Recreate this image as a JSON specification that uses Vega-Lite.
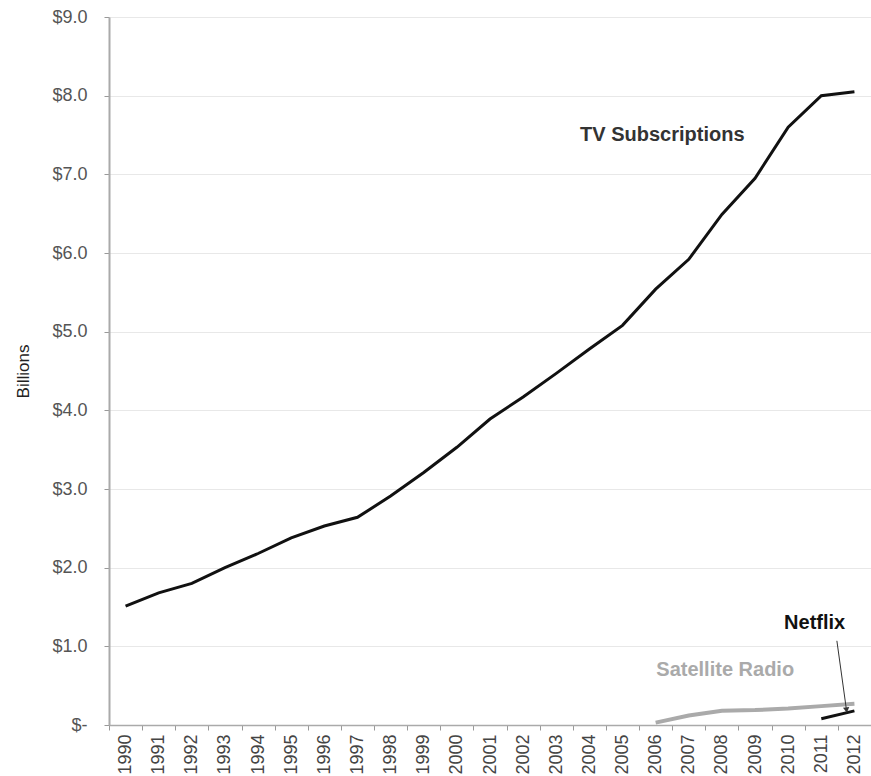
{
  "$schema": "https://vega.github.io/schema/vega-lite/v6.json",
  "width": 762,
  "height": 708,
  "autosize": "none",
  "padding": {"left": 109, "top": 17, "right": 0, "bottom": 51},
  "background": "white",
  "config": {
    "view": {"stroke": null},
    "font": "Liberation Sans"
  },
  "datasets": {
    "series": [
      {"year": 1990, "series": "TV Subscriptions", "value": 1.51},
      {"year": 1991, "series": "TV Subscriptions", "value": 1.68},
      {"year": 1992, "series": "TV Subscriptions", "value": 1.80},
      {"year": 1993, "series": "TV Subscriptions", "value": 2.00},
      {"year": 1994, "series": "TV Subscriptions", "value": 2.18},
      {"year": 1995, "series": "TV Subscriptions", "value": 2.38},
      {"year": 1996, "series": "TV Subscriptions", "value": 2.53},
      {"year": 1997, "series": "TV Subscriptions", "value": 2.64},
      {"year": 1998, "series": "TV Subscriptions", "value": 2.91},
      {"year": 1999, "series": "TV Subscriptions", "value": 3.21},
      {"year": 2000, "series": "TV Subscriptions", "value": 3.53},
      {"year": 2001, "series": "TV Subscriptions", "value": 3.89},
      {"year": 2002, "series": "TV Subscriptions", "value": 4.17},
      {"year": 2003, "series": "TV Subscriptions", "value": 4.47},
      {"year": 2004, "series": "TV Subscriptions", "value": 4.78},
      {"year": 2005, "series": "TV Subscriptions", "value": 5.08},
      {"year": 2006, "series": "TV Subscriptions", "value": 5.54},
      {"year": 2007, "series": "TV Subscriptions", "value": 5.92},
      {"year": 2008, "series": "TV Subscriptions", "value": 6.49},
      {"year": 2009, "series": "TV Subscriptions", "value": 6.95},
      {"year": 2010, "series": "TV Subscriptions", "value": 7.60},
      {"year": 2011, "series": "TV Subscriptions", "value": 8.00},
      {"year": 2012, "series": "TV Subscriptions", "value": 8.05},
      {"year": 2006, "series": "Satellite Radio", "value": 0.03},
      {"year": 2007, "series": "Satellite Radio", "value": 0.12},
      {"year": 2008, "series": "Satellite Radio", "value": 0.18},
      {"year": 2009, "series": "Satellite Radio", "value": 0.19},
      {"year": 2010, "series": "Satellite Radio", "value": 0.21},
      {"year": 2011, "series": "Satellite Radio", "value": 0.24},
      {"year": 2012, "series": "Satellite Radio", "value": 0.27},
      {"year": 2011, "series": "Netflix", "value": 0.08},
      {"year": 2012, "series": "Netflix", "value": 0.18}
    ],
    "labels": [
      {"label": "TV Subscriptions", "year": 2006.2, "value": 7.5},
      {"label": "Satellite Radio", "year": 2008.1, "value": 0.70},
      {"label": "Netflix", "year": 2010.8, "value": 1.30}
    ],
    "arrow": [
      {"year": 2011.47, "value": 1.07, "year2": 2011.76, "value2": 0.19}
    ]
  },
  "resolve": {"scale": {"x": "independent"}},
  "layer": [
    {
      "data": {"name": "series"},
      "encoding": {
        "x": {
          "field": "year", "type": "ordinal",
          "scale": {"type": "band", "paddingInner": 0, "paddingOuter": 0},
          "axis": {
            "title": null,
            "labelAngle": 270,
            "labelOverlap": false,
            "labelFontSize": 18,
            "labelColor": "#444444",
            "labelPadding": 4,
            "tickBand": "extent",
            "tickSize": 5,
            "tickColor": "#999999",
            "domainColor": "#aaaaaa",
            "domainWidth": 1.5,
            "grid": false
          }
        },
        "y": {
          "field": "value", "type": "quantitative",
          "scale": {"domain": [0, 9], "nice": false},
          "axis": {
            "title": "Billions",
            "titleFontSize": 17,
            "titleFontWeight": "normal",
            "titleColor": "#222222",
            "titlePadding": 19,
            "values": [0, 1, 2, 3, 4, 5, 6, 7, 8, 9],
            "labelExpr": "datum.value == 0 ? '$-' : '$' + format(datum.value, '.1f')",
            "labelFontSize": 18,
            "labelColor": "#555555",
            "labelPadding": 17,
            "labelOverlap": false,
            "tickSize": 5,
            "tickColor": "#999999",
            "domainColor": "#aaaaaa",
            "domainWidth": 2,
            "grid": true,
            "gridColor": "#e8e8e8",
            "gridWidth": 1
          }
        }
      },
      "layer": [
        {
          "transform": [{"filter": "datum.series == 'TV Subscriptions'"}],
          "mark": {"type": "line", "color": "#111111", "strokeWidth": 3}
        },
        {
          "transform": [{"filter": "datum.series == 'Satellite Radio'"}],
          "mark": {"type": "line", "color": "#aaaaaa", "strokeWidth": 4}
        },
        {
          "transform": [{"filter": "datum.series == 'Netflix'"}],
          "mark": {"type": "line", "color": "#111111", "strokeWidth": 3}
        }
      ]
    },
    {
      "layer": [
        {
          "data": {"name": "arrow"},
          "mark": {"type": "rule", "color": "#333333", "strokeWidth": 1},
          "encoding": {
            "x": {"field": "year", "type": "quantitative", "scale": {"domain": [1989.5, 2012.5], "nice": false, "zero": false}, "axis": null},
            "y": {"field": "value", "type": "quantitative"},
            "x2": {"field": "year2"},
            "y2": {"field": "value2"}
          }
        },
        {
          "data": {"name": "arrow"},
          "mark": {"type": "point", "shape": "triangle-down", "filled": true, "color": "#333333", "size": 40, "angle": -8, "opacity": 1},
          "encoding": {
            "x": {"field": "year2", "type": "quantitative", "axis": null},
            "y": {"field": "value2", "type": "quantitative"}
          }
        },
        {
          "data": {"name": "labels"},
          "mark": {"type": "text", "fontWeight": "bold", "fontSize": 20, "align": "center", "baseline": "middle"},
          "encoding": {
            "x": {"field": "year", "type": "quantitative", "axis": null},
            "y": {"field": "value", "type": "quantitative"},
            "text": {"field": "label"},
            "color": {
              "field": "label", "type": "nominal", "legend": null,
              "scale": {"domain": ["TV Subscriptions", "Satellite Radio", "Netflix"], "range": ["#333333", "#aaaaaa", "#111111"]}
            }
          }
        }
      ]
    }
  ]
}
